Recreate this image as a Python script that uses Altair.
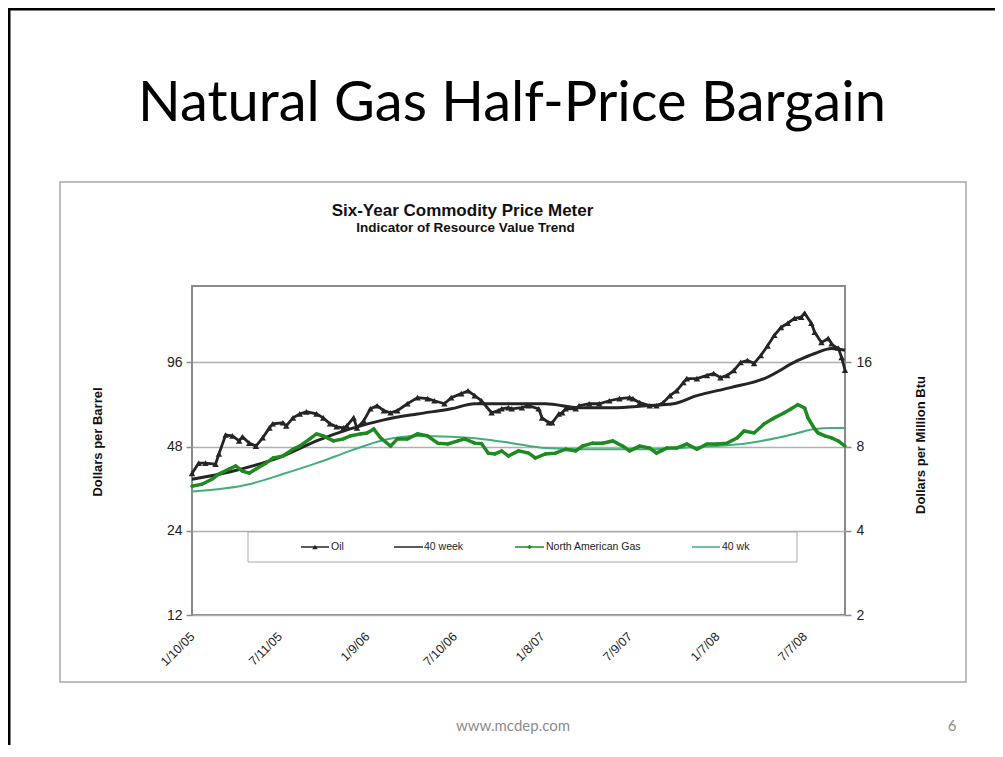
import json
import altair as alt
import pandas as pd

# ---------------- data ----------------
# x = weeks counted from 1/10/05
oil_week = [0, 2, 4, 7, 8, 10, 12, 14, 15, 17,
            19, 21, 23, 24, 27, 28, 30, 32, 34, 37,
            39, 41, 43, 45, 46, 48, 49, 51, 53, 55,
            57, 59, 61, 64, 67, 70, 72, 75, 77, 80,
            82, 84, 86, 89, 91, 92, 94, 95, 98, 100,
            103, 104, 106, 107, 109, 110, 111, 114, 115, 118,
            121, 124, 127, 130, 131, 133, 136, 138, 140, 142,
            144, 146, 147, 150, 153, 155, 157, 159, 161, 163,
            165, 167, 169, 171, 173, 175, 177, 179, 181, 182,
            184, 185, 187, 189, 190, 191, 192, 193, 194]
oil_price = [38.5, 41.9, 41.9, 41.5, 45.2, 52.8, 52.4, 50.3, 52.0, 49.4,
             48.2, 51.6, 56.0, 57.9, 58.4, 56.9, 60.8, 62.8, 63.9, 62.8,
             60.8, 57.9, 56.5, 56.0, 56.9, 60.8, 56.0, 59.3, 65.5, 67.2,
             64.5, 63.4, 64.5, 68.3, 71.8, 71.2, 70.0, 68.3, 71.8, 74.2,
             76.0, 73.0, 70.0, 63.4, 64.5, 65.5, 66.1, 65.5, 66.1, 67.2,
             65.5, 60.8, 58.4, 58.4, 62.8, 63.4, 65.5, 65.5, 67.2, 68.3,
             68.3, 70.0, 71.2, 71.8, 71.2, 68.9, 67.2, 67.2, 68.9, 73.0,
             76.0, 81.3, 84.0, 84.0, 86.2, 87.6, 84.7, 86.2, 89.8, 96.0,
             97.5, 95.2, 101.6, 110.0, 120.0, 128.0, 132.5, 138.0, 139.2, 143.9,
             132.5, 123.0, 113.0, 117.0, 112.0, 109.0, 108.0, 100.0, 90.0]

oil40_week = [0, 12, 27, 37, 47, 57, 67, 77, 84, 92, 105,
              115, 125, 135, 143, 150, 160, 170, 180, 185, 190, 194]
oil40_price = [36.7, 39.2, 44.4, 50.3, 55.5, 59.8, 62.8, 65.5, 68.3, 68.3, 68.3,
               66.1, 66.1, 67.2, 68.3, 73.0, 78.0, 84.0, 97.5, 103.3, 107.7, 106.0]

gas_week = [0, 3, 6, 8, 11, 13, 15, 17, 19, 22,
            24, 27, 30, 32, 35, 37, 39, 42, 45, 47,
            50, 52, 54, 56, 59, 61, 64, 67, 70, 73,
            76, 79, 81, 84, 86, 88, 90, 92, 94, 97,
            100, 102, 105, 108, 111, 114, 116, 119, 122, 125,
            128, 130, 133, 136, 138, 141, 144, 147, 150, 153,
            156, 159, 162, 164, 167, 170, 173, 176, 178, 180,
            182, 183, 185, 186, 188, 190, 192, 194]
gas_price = [5.77, 5.87, 6.12, 6.38, 6.65, 6.82, 6.53, 6.43, 6.65, 6.98,
             7.28, 7.40, 7.83, 8.03, 8.52, 8.88, 8.73, 8.38, 8.52, 8.73,
             8.88, 8.95, 9.25, 8.60, 8.03, 8.52, 8.52, 8.88, 8.73, 8.23,
             8.17, 8.38, 8.52, 8.23, 8.20, 7.58, 7.53, 7.72, 7.40, 7.72,
             7.58, 7.28, 7.53, 7.58, 7.83, 7.72, 8.03, 8.23, 8.23, 8.38,
             8.03, 7.72, 8.03, 7.90, 7.58, 7.90, 7.90, 8.17, 7.83, 8.17,
             8.17, 8.23, 8.60, 9.10, 8.95, 9.65, 10.13, 10.57, 10.92, 11.30,
             11.00, 10.13, 9.25, 8.95, 8.73, 8.60, 8.38, 8.03]

gas40_week = [0, 17, 27, 37, 47, 57, 67, 77, 86, 95, 105,
              115, 125, 135, 145, 155, 165, 174, 180, 185, 190, 194]
gas40_price = [5.53, 5.87, 6.38, 6.98, 7.72, 8.45, 8.73, 8.67, 8.52, 8.23, 7.90,
               7.83, 7.83, 7.83, 7.90, 8.03, 8.23, 8.60, 8.95, 9.25, 9.33, 9.33]

tick_weeks = [0, 26, 52, 78, 104, 130, 156, 182]
tick_labels = ["1/10/05", "7/11/05", "1/9/06", "7/10/06",
               "1/8/07", "7/9/07", "1/7/08", "7/7/08"]
oil_ticks = [12, 24, 48, 96]
gas_ticks = [2, 4, 8, 16]

legend_labels = ["Oil", "40 week", "North American Gas", "40 wk"]

# ---------------- styling / layout ----------------
W, H = 653, 329
C_OIL = "#252525"
C_GAS = "#1f8a22"
C_GAS40 = "#45ad7c"
FONT = "Liberation Sans"

oil_df = pd.DataFrame({"week": oil_week, "price": oil_price})
oil40_df = pd.DataFrame({"week": oil40_week, "price": oil40_price})
gas_df = pd.DataFrame({"week": gas_week, "gas": gas_price})
gas40_df = pd.DataFrame({"week": gas40_week, "gas": gas40_price})
dummy = pd.DataFrame({"d": [0]})

label_expr = json.dumps(tick_labels) + "[round(datum.value / 26)]"

x_enc = alt.X(
    "week:Q",
    scale=alt.Scale(domain=[0, 194], nice=False, zero=False),
    axis=alt.Axis(values=tick_weeks, labelExpr=label_expr, title=None,
                  labelAngle=-45, labelAlign="right", labelBaseline="middle",
                  labelPadding=19, ticks=False, domain=False, grid=False,
                  labelFlush=False, labelOverlap=False,
                  labelFont=FONT, labelFontSize=12.5, labelColor="#222"),
)

y_oil = alt.Y(
    "price:Q",
    scale=alt.Scale(type="log", base=2, domain=[12, 180], nice=False),
    axis=alt.Axis(values=oil_ticks, title=None, grid=True, gridColor="#b0b0b0",
                  gridWidth=1.5, tickSize=6, tickColor="#8a8a8a", tickWidth=1.5,
                  domain=False, labelPadding=4, labelFont=FONT, labelFontSize=14,
                  labelColor="#222", format="d"),
)
y_gas = alt.Y(
    "gas:Q",
    scale=alt.Scale(type="log", base=2, domain=[2, 30], nice=False),
    axis=alt.Axis(orient="right", values=gas_ticks, title=None, grid=False,
                  tickSize=6, tickColor="#8a8a8a", tickWidth=1.5, domain=False,
                  labelPadding=5, labelFont=FONT, labelFontSize=14,
                  labelColor="#222", format="d"),
)

oil_line = alt.Chart(oil_df).mark_line(
    color=C_OIL, strokeWidth=2.8,
    point=alt.OverlayMarkDef(shape="triangle-up", size=42, filled=True, color=C_OIL),
).encode(x=x_enc, y=y_oil)
oil40_line = alt.Chart(oil40_df).mark_line(
    color=C_OIL, strokeWidth=3, interpolate="monotone").encode(x=x_enc, y=y_oil)

gas_line = alt.Chart(gas_df).mark_line(
    color=C_GAS, strokeWidth=3.5,
    point=alt.OverlayMarkDef(shape="diamond", size=18, filled=True, color=C_GAS),
).encode(x=x_enc, y=y_gas)
gas40_line = alt.Chart(gas40_df).mark_line(
    color=C_GAS40, strokeWidth=2, interpolate="monotone").encode(x=x_enc, y=y_gas)


def txt(s, x, y, **kw):
    return alt.Chart(dummy).mark_text(text=s, **kw).encode(
        x=alt.value(x), y=alt.value(y))


def hrule(x1, x2, y, **kw):
    return alt.Chart(dummy).mark_rule(**kw).encode(
        x=alt.value(x1), x2=alt.value(x2), y=alt.value(y))


def vrule(x, y1, y2, **kw):
    return alt.Chart(dummy).mark_rule(**kw).encode(
        x=alt.value(x), y=alt.value(y1), y2=alt.value(y2))


# slide frame + chart box (behind)
frame = [
    hrule(-184, 803, -277, color="#000", strokeWidth=3),
    vrule(-183, -278, 459, color="#000", strokeWidth=3),
    alt.Chart(dummy).mark_rect(fillOpacity=0, stroke="#a8a8a8", strokeWidth=1.5).encode(
        x=alt.value(-132), x2=alt.value(774), y=alt.value(-104), y2=alt.value(396)),
]

# legend
LY = 261
legend = [
    alt.Chart(dummy).mark_rect(fill="white", stroke="#a8a8a8", strokeWidth=1).encode(
        x=alt.value(56), x2=alt.value(605), y=alt.value(246), y2=alt.value(276)),
    hrule(109, 137, LY, color=C_OIL, strokeWidth=1.5),
    alt.Chart(dummy).mark_point(shape="triangle-up", filled=True, size=30, color=C_OIL,
                                opacity=1).encode(x=alt.value(123), y=alt.value(LY)),
    txt(legend_labels[0], 139, LY, align="left", baseline="middle", font=FONT,
        fontSize=10.5, color="#222"),
    hrule(202, 231, LY, color=C_OIL, strokeWidth=1.5),
    txt(legend_labels[1], 232, LY, align="left", baseline="middle", font=FONT,
        fontSize=10.5, color="#222"),
    hrule(323, 352, LY, color=C_GAS, strokeWidth=1.5),
    alt.Chart(dummy).mark_point(shape="diamond", filled=True, size=22, color=C_GAS,
                                opacity=1).encode(x=alt.value(337.5), y=alt.value(LY)),
    txt(legend_labels[2], 354, LY, align="left", baseline="middle", font=FONT,
        fontSize=10.5, color="#222"),
    hrule(500, 528, LY, color=C_GAS40, strokeWidth=1.5),
    txt(legend_labels[3], 530, LY, align="left", baseline="middle", font=FONT,
        fontSize=10.5, color="#222"),
]

texts = [
    txt("Natural Gas Half-Price Bargain", 320, -165, align="center",
        baseline="alphabetic", font="Lato", fontSize=56, color="#000"),
    txt("Six-Year Commodity Price Meter", 270.5, -70, align="center",
        baseline="alphabetic", font=FONT, fontSize=17, fontWeight="bold", color="#111"),
    txt("Indicator of Resource Value Trend", 273.5, -54, align="center",
        baseline="alphabetic", font=FONT, fontSize=13.5, fontWeight="bold", color="#111"),
    txt("Dollars per Barrel", -94, 156, align="center", baseline="middle", angle=270,
        font=FONT, fontSize=13, fontWeight="bold", color="#111"),
    txt("Dollars per Million Btu", 729, 159, align="center", baseline="middle",
        angle=270, font=FONT, fontSize=13, fontWeight="bold", color="#111"),
    txt("www.mcdep.com", 321, 445, align="center", baseline="alphabetic",
        font="Lato", fontSize=15, color="#8c8c8c"),
    txt("6", 760, 445, align="center", baseline="alphabetic", font="Lato",
        fontSize=15, color="#8c8c8c"),
]

left = alt.layer(*frame, oil40_line, oil_line)
right = alt.layer(gas40_line, gas_line)
decor = alt.layer(*legend, *texts)

chart = alt.layer(left, right, decor).resolve_scale(y="independent").properties(
    width=W, height=H,
    padding={"left": 184, "top": 278, "right": 150, "bottom": 130},
    autosize=alt.AutoSizeParams(type="none"),
    background="white",
).configure_view(stroke="#8a8a8a", strokeWidth=2)

chart.save("out.html", embed_options={"renderer": "svg", "actions": False})
